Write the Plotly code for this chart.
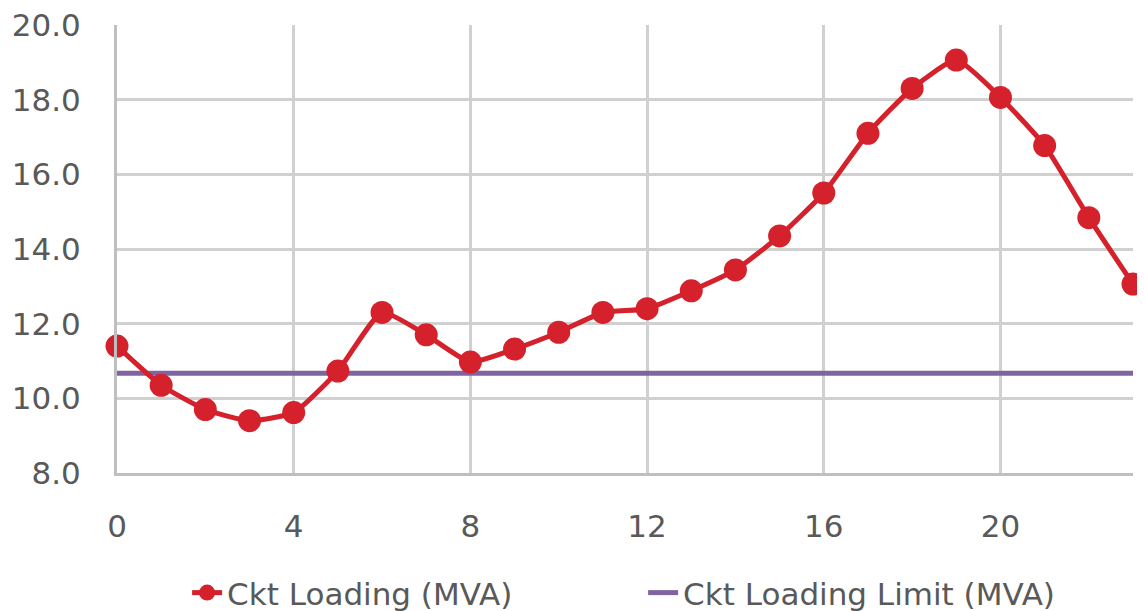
import plotly.graph_objects as go

hours = list(range(24))
loading = [11.4, 10.35, 9.7, 9.4, 9.62, 10.73, 12.3, 11.7, 10.97, 11.32, 11.77, 12.3,
           12.4, 12.88, 13.44, 14.35, 15.5, 17.1, 18.3, 19.06, 18.06, 16.77, 14.84, 13.06]
limit = [10.67] * 24

fig = go.Figure()
fig.add_trace(go.Scatter(
    x=hours, y=limit, mode="lines", name="Ckt Loading Limit (MVA)",
    line=dict(color="#8064a2", width=5), cliponaxis=False))
fig.add_trace(go.Scatter(
    x=hours, y=loading, mode="lines+markers", name="Ckt Loading (MVA)",
    line=dict(color="#d4212b", width=5, shape="spline", smoothing=0.5),
    marker=dict(size=23, color="#d4212b"), cliponaxis=False))

# page body has an 8px margin, so margins are shifted by that
fig.update_layout(
    width=1145, height=611,
    margin=dict(l=109, r=20, t=17, b=146),
    paper_bgcolor="white", plot_bgcolor="white",
    font=dict(family="DejaVu Sans", size=31, color="#595959"),
    showlegend=True,
    legend=dict(orientation="h", x=0.069, xanchor="left",
                yref="container", y=0.0426, yanchor="middle",
                traceorder="reversed", entrywidth=411,
                font=dict(family="DejaVu Sans", size=31, color="#595959")),
)
fig.update_xaxes(range=[0, 23], tickvals=[0, 4, 8, 12, 16, 20],
                 showgrid=True, gridcolor="#d0d0d0", gridwidth=3,
                 showline=True, linecolor="#bfbfbf", linewidth=3,
                 zeroline=False, ticks="", ticklabelstandoff=24,
                 automargin=False, ticklabeloverflow="allow")
fig.update_yaxes(range=[8, 20], dtick=2, tickformat=".1f",
                 showgrid=True, gridcolor="#d0d0d0", gridwidth=3,
                 showline=True, linecolor="#bfbfbf", linewidth=3,
                 zeroline=False, ticks="", ticklabelstandoff=27,
                 automargin=False, ticklabeloverflow="allow")

fig.write_html("out.html")
